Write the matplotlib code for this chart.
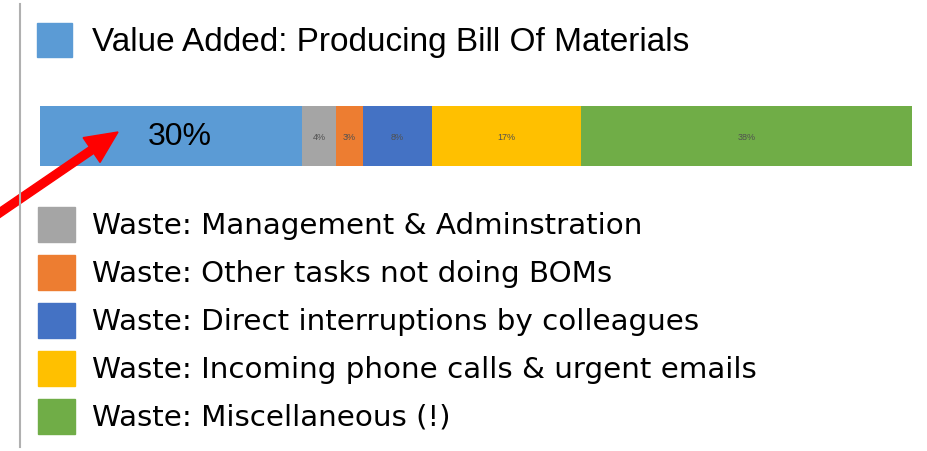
import matplotlib.pyplot as plt
from matplotlib.patches import Rectangle, FancyArrow
from matplotlib.transforms import IdentityTransform

# share of time per activity (percent)
categories = ["Value Added: Producing Bill Of Materials",
              "Waste: Management & Adminstration",
              "Waste: Other tasks not doing BOMs",
              "Waste: Direct interruptions by colleagues",
              "Waste: Incoming phone calls & urgent emails",
              "Waste: Miscellaneous (!)"]
shares = [30, 4, 3, 8, 17, 38]
colors = ["#5b9bd5", "#a5a5a5", "#ed7d31", "#4472c4", "#ffc000", "#70ad47"]

W, H = 928, 452
fig = plt.figure(figsize=(W / 100, H / 100), dpi=100)

# axes placed in pixel terms: bar runs x 40..912, y 107..167
ax = fig.add_axes([40 / W, 1 - 167 / H, 872 / W, 60 / H])
left = 0
for i, (s, c) in enumerate(zip(shares, colors)):
    ax.barh(0, s, left=left, height=1, color=c, edgecolor="none")
    if i == 0:
        ax.text(left + s / 2 + 1, 0, f"{s}%", ha="center", va="center",
                fontsize=23, family="Liberation Sans", color="black")
    else:
        ax.text(left + s / 2, 0, f"{s}%", ha="center", va="center",
                fontsize=6.5, family="Liberation Sans", color="#505050")
    left += s
ax.set_xlim(0, sum(shares))
ax.set_ylim(-0.5, 0.5)
ax.axis("off")

def px(x, y):
    return x / W, 1 - y / H

# thin vertical rule on the left
fig.add_artist(plt.Line2D([20 / W, 20 / W], [1 - 5 / H, 1 - 448 / H],
                          color="#b0b0b0", lw=1.5))

# top legend entry
fig.add_artist(Rectangle(px(37, 58), 35 / W, 34 / H, color=colors[0],
                         transform=fig.transFigure))
fig.text(*px(92, 42), categories[0], fontsize=24,
         family="Liberation Sans", va="center", ha="left")

# waste legend entries
ys = [226, 274, 322, 370, 418]
for y, name, c in zip(ys, categories[1:], colors[1:]):
    fig.add_artist(Rectangle(px(38, y + 17), 37 / W, 35 / H, color=c,
                             transform=fig.transFigure))
    fig.text(*px(92, y), name, fontsize=21.2, family="DejaVu Sans",
             va="center", ha="left")

# red pointer arrow onto the value-added share (pixel coordinates)
x0, y0 = -5, H - 217
x1, y1 = 118, H - 133
fig.add_artist(FancyArrow(x0, y0, x1 - x0, y1 - y0, width=8,
                          head_width=30, head_length=32,
                          length_includes_head=True, color="#ff0000",
                          transform=IdentityTransform()))

fig.savefig("out.png", dpi=100, facecolor="white")
